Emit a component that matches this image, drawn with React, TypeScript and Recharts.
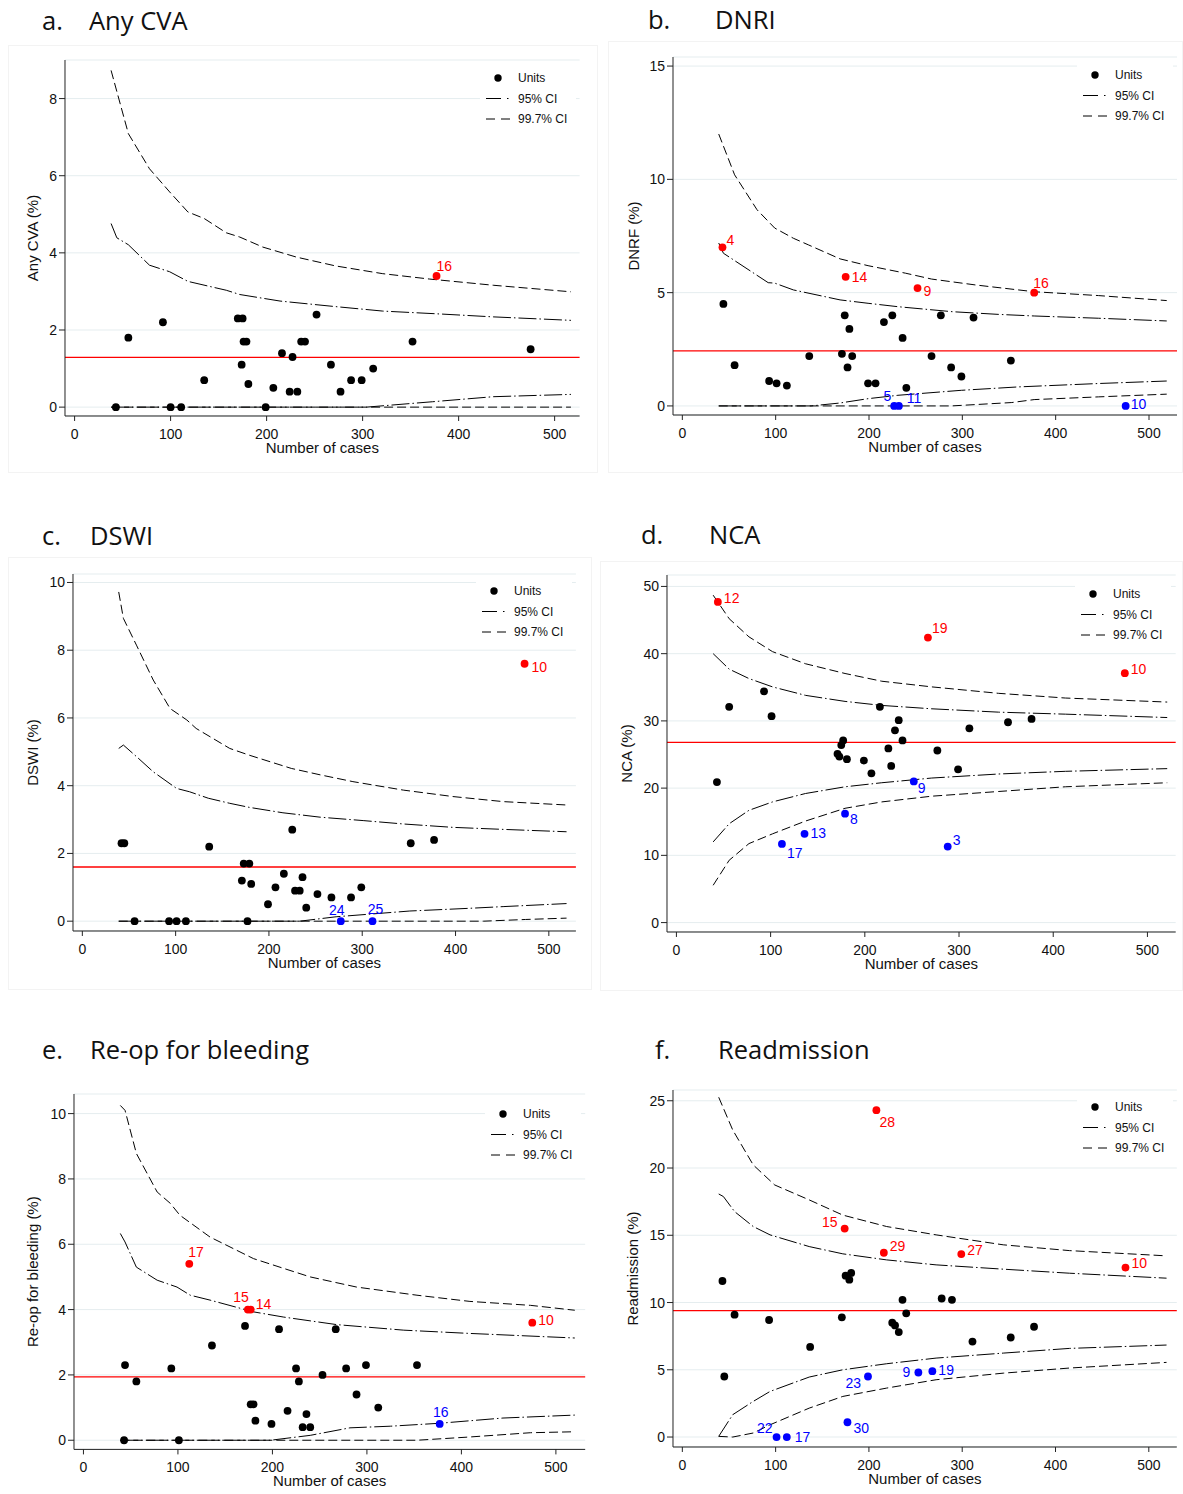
import React from 'react';
import { ComposedChart, Line, Scatter, XAxis, YAxis, CartesianGrid, ReferenceLine, Legend } from 'recharts';

type Pt = [number, number];
type Out = [string, number, number];
type LabelPos = [number, number, 'start' | 'middle' | 'end'];

const FONT = '"Liberation Sans", Arial, sans-serif';
const RED = '#ff0000';
const BLUE = '#0000ff';
const X_TICKS = [0, 100, 200, 300, 400, 500];

// a. Any CVA
const aUnits: Pt[] = [[43, 0], [56, 1.8], [92, 2.2], [100, 0], [111, 0], [135, 0.7], [170, 2.3], [175, 2.3], [174, 1.1], [176, 1.7], [179, 1.7], [181, 0.6], [199, 0], [207, 0.5], [216, 1.4], [227, 1.3], [224, 0.4], [232, 0.4], [236, 1.7], [240, 1.7], [252, 2.4], [267, 1.1], [277, 0.4], [288, 0.7], [299, 0.7], [311, 1.0], [352, 1.7], [475, 1.5]];
const aHigh: Out[] = [['16', 377, 3.4]];
const aLow: Out[] = [];
const aMean = 1.29;
const aUp997: Pt[] = [[38, 8.73], [56, 7.09], [78, 6.18], [99, 5.58], [118, 5.06], [135, 4.89], [158, 4.52], [172, 4.41], [196, 4.15], [231, 3.89], [272, 3.66], [321, 3.46], [370, 3.32], [436, 3.16], [517, 2.99]];
const aUp95: Pt[] = [[38, 4.76], [44, 4.39], [56, 4.21], [78, 3.68], [99, 3.51], [118, 3.26], [158, 3.03], [172, 2.92], [214, 2.75], [266, 2.62], [321, 2.49], [377, 2.42], [436, 2.34], [517, 2.25]];
const aLo95: Pt[] = [[38, 0], [304, 0], [373, 0.14], [436, 0.27], [517, 0.33]];
const aLo997: Pt[] = [[38, 0], [517, 0]];

// b. DNRI
const bUnits: Pt[] = [[44, 4.5], [56, 1.8], [93, 1.1], [101, 1.0], [112, 0.9], [136, 2.2], [174, 4.0], [179, 3.4], [171, 2.3], [182, 2.2], [177, 1.7], [199, 1.0], [207, 1.0], [216, 3.7], [225, 4.0], [236, 3.0], [240, 0.8], [267, 2.2], [277, 4.0], [288, 1.7], [299, 1.3], [312, 3.9], [352, 2.0]];
const bHigh: Out[] = [['4', 43, 7.0], ['14', 175, 5.7], ['9', 252, 5.2], ['16', 377, 5.0]];
const bLow: Out[] = [['5', 227, 0], ['11', 232, 0], ['10', 475, 0]];
const bMean = 2.43;
const bUp997: Pt[] = [[39, 12.0], [56, 10.2], [80, 8.66], [99, 7.85], [119, 7.4], [135, 7.11], [169, 6.49], [199, 6.19], [239, 5.86], [267, 5.6], [314, 5.34], [377, 5.04], [446, 4.87], [519, 4.65]];
const bUp95: Pt[] = [[39, 7.19], [44, 6.74], [92, 5.44], [99, 5.42], [119, 5.12], [169, 4.68], [199, 4.53], [231, 4.38], [289, 4.16], [339, 4.04], [377, 3.97], [446, 3.87], [519, 3.75]];
const bLo95: Pt[] = [[39, 0], [138, 0], [169, 0.13], [199, 0.32], [231, 0.47], [299, 0.69], [360, 0.84], [446, 0.99], [519, 1.1]];
const bLo997: Pt[] = [[39, 0], [288, 0], [353, 0.15], [377, 0.28], [446, 0.4], [519, 0.52]];

// c. DSWI
const cUnits: Pt[] = [[42, 2.3], [45, 2.3], [56, 0], [93, 0], [101, 0], [111, 0], [136, 2.2], [173, 1.7], [179, 1.7], [171, 1.2], [181, 1.1], [177, 0], [199, 0.5], [207, 1.0], [216, 1.4], [225, 2.7], [228, 0.9], [233, 0.9], [236, 1.3], [240, 0.4], [252, 0.8], [267, 0.7], [288, 0.7], [299, 1.0], [352, 2.3], [377, 2.4]];
const cHigh: Out[] = [['10', 474, 7.6]];
const cLow: Out[] = [['24', 277, 0], ['25', 311, 0]];
const cMean = 1.6;
const cUp997: Pt[] = [[39, 9.72], [44, 8.94], [58, 8.15], [76, 7.12], [94, 6.28], [112, 5.94], [122, 5.69], [158, 5.1], [179, 4.9], [224, 4.51], [255, 4.32], [290, 4.12], [344, 3.87], [397, 3.68], [451, 3.53], [519, 3.43]];
const cUp95: Pt[] = [[39, 5.1], [44, 5.2], [58, 4.86], [76, 4.41], [101, 3.92], [115, 3.82], [135, 3.63], [158, 3.48], [179, 3.36], [215, 3.2], [255, 3.07], [301, 2.97], [344, 2.87], [397, 2.77], [451, 2.71], [519, 2.64]];
const cLo95: Pt[] = [[39, 0], [233, 0], [272, 0.13], [351, 0.3], [415, 0.38], [451, 0.43], [519, 0.52]];
const cLo997: Pt[] = [[39, 0], [430, 0], [475, 0.05], [519, 0.09]];

// d. NCA
const dUnits: Pt[] = [[43, 20.9], [56, 32.1], [93, 34.4], [101, 30.7], [171, 25.1], [173, 24.7], [175, 26.4], [177, 27.1], [181, 24.3], [199, 24.1], [207, 22.2], [216, 32.1], [225, 25.9], [228, 23.3], [232, 28.6], [236, 30.1], [240, 27.1], [277, 25.6], [299, 22.8], [311, 28.9], [352, 29.8], [377, 30.3]];
const dHigh: Out[] = [['12', 44, 47.7], ['19', 267, 42.4], ['10', 476, 37.1]];
const dLow: Out[] = [['17', 112, 11.7], ['13', 136, 13.2], ['8', 179, 16.2], ['9', 252, 21.0], ['3', 288, 11.3]];
const dMean = 26.8;
const dUp997: Pt[] = [[39, 48.7], [56, 45.2], [77, 42.5], [102, 40.3], [137, 38.5], [179, 37.05], [218, 35.9], [271, 35.06], [342, 34.1], [413, 33.4], [521, 32.8]];
const dUp95: Pt[] = [[39, 40.0], [56, 37.7], [77, 36.3], [102, 35.06], [137, 33.8], [179, 32.9], [218, 32.3], [271, 31.8], [342, 31.3], [413, 31.0], [521, 30.5]];
const dLo95: Pt[] = [[39, 12.0], [56, 14.7], [77, 16.7], [102, 17.95], [137, 19.2], [179, 20.2], [218, 20.8], [271, 21.5], [342, 22.1], [413, 22.5], [521, 22.9]];
const dLo997: Pt[] = [[39, 5.55], [56, 9.27], [77, 11.75], [102, 13.2], [137, 15.1], [179, 17.0], [218, 17.95], [271, 18.8], [342, 19.5], [413, 20.2], [521, 20.8]];

// e. Re-op for bleeding
const eUnits: Pt[] = [[43, 0], [44, 2.3], [56, 1.8], [93, 2.2], [101, 0], [136, 2.9], [171, 3.5], [177, 1.1], [180, 1.1], [182, 0.6], [199, 0.5], [207, 3.4], [216, 0.9], [225, 2.2], [228, 1.8], [232, 0.4], [240, 0.4], [236, 0.8], [253, 2.0], [267, 3.4], [278, 2.2], [289, 1.4], [299, 2.3], [312, 1.0], [353, 2.3]];
const eHigh: Out[] = [['17', 112, 5.4], ['15', 174, 4.0], ['14', 177, 4.0], ['10', 475, 3.6]];
const eLow: Out[] = [['16', 377, 0.5]];
const eMean = 1.94;
const eUp997: Pt[] = [[39, 10.25], [44, 10.1], [56, 8.78], [78, 7.6], [92, 7.25], [102, 6.89], [134, 6.22], [180, 5.56], [212, 5.26], [240, 5.0], [289, 4.69], [353, 4.44], [409, 4.25], [473, 4.13], [520, 3.98]];
const eUp95: Pt[] = [[39, 6.33], [44, 6.07], [56, 5.3], [78, 4.9], [99, 4.69], [113, 4.44], [134, 4.29], [180, 3.93], [212, 3.77], [268, 3.54], [339, 3.37], [409, 3.27], [520, 3.13]];
const eLo95: Pt[] = [[39, 0], [198, 0], [240, 0.15], [282, 0.38], [325, 0.43], [377, 0.52], [444, 0.68], [520, 0.77]];
const eLo997: Pt[] = [[39, 0], [353, 0], [409, 0.1], [473, 0.23], [520, 0.26]];

// f. Readmission
const fUnits: Pt[] = [[43, 11.6], [45, 4.5], [56, 9.1], [93, 8.7], [137, 6.7], [171, 8.9], [175, 12.0], [179, 11.7], [181, 12.2], [225, 8.5], [228, 8.3], [232, 7.8], [236, 10.2], [240, 9.2], [278, 10.3], [289, 10.2], [311, 7.1], [352, 7.4], [377, 8.2]];
const fHigh: Out[] = [['28', 208, 24.3], ['15', 174, 15.5], ['29', 216, 13.7], ['27', 299, 13.6], ['10', 475, 12.6]];
const fLow: Out[] = [['22', 101, 0], ['17', 112, 0], ['30', 177, 1.1], ['23', 199, 4.5], ['9', 253, 4.8], ['19', 268, 4.9]];
const fMean = 9.4;
const fUp997: Pt[] = [[39, 25.26], [54, 22.83], [76, 20.23], [99, 18.74], [136, 17.63], [172, 16.5], [219, 15.65], [272, 15.03], [344, 14.29], [415, 13.86], [519, 13.47]];
const fUp95: Pt[] = [[39, 18.07], [44, 17.88], [56, 16.76], [76, 15.65], [94, 15.03], [136, 14.16], [172, 13.62], [219, 13.17], [272, 12.8], [344, 12.48], [415, 12.18], [519, 11.81]];
const fLo95: Pt[] = [[39, 0.05], [54, 1.66], [76, 2.65], [94, 3.39], [136, 4.46], [172, 5.0], [219, 5.45], [272, 5.87], [344, 6.24], [415, 6.59], [519, 6.84]];
const fLo997: Pt[] = [[39, 0.05], [54, 0], [76, 0.3], [94, 0.91], [136, 2.15], [172, 3.02], [219, 3.64], [272, 4.26], [344, 4.75], [415, 5.13], [519, 5.55]];

const rows = (pts: Pt[]) => pts.map(([n, v]) => ({ n, v }));
const outRows = (pts: Out[]) => pts.map(([lab, n, v]) => ({ n, v, lab }));

interface PanelProps {
  letter: string; title: string; titleX: [number, number]; titleY: number;
  yLabel: string; yLabelGap: number;
  box: [number, number, number, number]; // x0, x1, y0, y1 of the plot area on the page
  xDomain: [number, number]; yDomain: [number, number]; yTicks: number[];
  units: Pt[]; high: Out[]; low: Out[]; mean: number;
  up997: Pt[]; up95: Pt[]; lo95: Pt[]; lo997: Pt[];
  labelPos: Record<string, LabelPos>; legendDy: number;
}

const YW = 60, MT = 10, MR = 10, XH = 50;
const DASH95 = '18 3 1.5 3';
const DASH997 = '9 4';

function dotShape(color: string, pos: Record<string, LabelPos>) {
  return (p: any) => {
    const lab = p.payload?.lab;
    const lp = lab ? pos[lab] : undefined;
    return (
      <g>
        <circle cx={p.cx} cy={p.cy} r={3.9} fill={color} />
        {lp && (
          <text x={p.cx + lp[0]} y={p.cy + lp[1]} textAnchor={lp[2]} dominantBaseline="central"
            fill={color} fontSize={14} fontFamily={FONT}>{lab}</text>
        )}
      </g>
    );
  };
}

function LegendBox() {
  const t = { dominantBaseline: 'central' as const, fontSize: 12, fontFamily: FONT, fill: '#111' };
  return (
    <div style={{ background: '#fff', width: 96, height: 68 }}>
      <svg width={96} height={68} style={{ display: 'block' }}>
        <circle cx={18} cy={10} r={3.7} fill="#000" />
        <text x={38} y={10} {...t}>Units</text>
        <line x1={6} x2={31} y1={30.5} y2={30.5} stroke="#000" strokeDasharray="15 6 1.5 20" />
        <text x={38} y={30.5} {...t}>95% CI</text>
        <line x1={6} x2={31} y1={51} y2={51} stroke="#000" strokeDasharray="9 6" />
        <text x={38} y={51} {...t}>99.7% CI</text>
      </svg>
    </div>
  );
}

function Panel(p: PanelProps) {
  const [x0, x1, y0, y1] = p.box;
  const pw = x1 - x0, ph = y1 - y0;
  const W = pw + YW + MR, H = ph + MT + XH;
  const tick = { fill: '#111', fontSize: 14, fontFamily: FONT };
  const titleStyle: React.CSSProperties = { position: 'absolute', top: p.titleY - 15, fontFamily: '"Open Sans", sans-serif', fontSize: 25.5, lineHeight: '28px', color: '#111', whiteSpace: 'nowrap' };
  const ly = MT + ph / 2, lx = YW - p.yLabelGap;
  return (
    <>
      <div style={{ ...titleStyle, left: p.titleX[0] }}>{p.letter}</div>
      <div style={{ ...titleStyle, left: p.titleX[1] }}>{p.title}</div>
      <div style={{ position: 'absolute', left: x0 - YW, top: y0 - MT }}>
        <ComposedChart width={W} height={H} margin={{ top: MT, right: MR, bottom: 0, left: 0 }}>
          <CartesianGrid vertical={false} stroke="#e5edef" />
          <XAxis type="number" dataKey="n" domain={p.xDomain} ticks={X_TICKS} allowDataOverflow
            height={XH} tickSize={5} tickMargin={8} stroke="#222" tick={tick}
            label={{ value: 'Number of cases', position: 'insideBottom', offset: 13, fill: '#111', fontSize: 15, fontFamily: FONT }} />
          <YAxis type="number" dataKey="v" domain={p.yDomain} ticks={p.yTicks} allowDataOverflow
            width={YW} tickSize={6} tickMargin={2} stroke="#222" tick={tick}
            label={{
              content: () => (
                <text x={lx} y={ly} transform={`rotate(-90 ${lx} ${ly})`}
                  textAnchor="middle" dominantBaseline="central" fontSize={15} fontFamily={FONT} fill="#111">{p.yLabel}</text>
              ),
            }} />
          <ReferenceLine y={p.mean} stroke={RED} strokeWidth={1.3} />
          <Line data={rows(p.lo997)} dataKey="v" type="linear" stroke="#000" strokeWidth={1} strokeDasharray={DASH997} dot={false} activeDot={false} isAnimationActive={false} legendType="none" />
          <Line data={rows(p.up997)} dataKey="v" type="linear" stroke="#000" strokeWidth={1} strokeDasharray={DASH997} dot={false} activeDot={false} isAnimationActive={false} legendType="none" />
          <Line data={rows(p.lo95)} dataKey="v" type="linear" stroke="#000" strokeWidth={1} strokeDasharray={DASH95} dot={false} activeDot={false} isAnimationActive={false} legendType="none" />
          <Line data={rows(p.up95)} dataKey="v" type="linear" stroke="#000" strokeWidth={1} strokeDasharray={DASH95} dot={false} activeDot={false} isAnimationActive={false} legendType="none" />
          <Scatter data={rows(p.units)} shape={dotShape('#000', p.labelPos)} isAnimationActive={false} legendType="none" />
          <Scatter data={outRows(p.high)} shape={dotShape(RED, p.labelPos)} isAnimationActive={false} legendType="none" />
          <Scatter data={outRows(p.low)} shape={dotShape(BLUE, p.labelPos)} isAnimationActive={false} legendType="none" />
          <Legend layout="vertical" align="center" verticalAlign="middle" content={() => <LegendBox />}
            wrapperStyle={{ left: YW + pw - 100, top: MT + p.legendDy - 10, width: 96, height: 68, bottom: 'auto', right: 'auto' }} />
        </ComposedChart>
      </div>
    </>
  );
}

const frames = [
  { left: 8, top: 45, width: 590, height: 428 },
  { left: 608, top: 41, width: 575, height: 432 },
  { left: 8, top: 557, width: 584, height: 433 },
  { left: 600, top: 561, width: 583, height: 430 },
];

export default function App() {
  return (
    <div style={{ position: 'absolute', left: 0, top: 0, width: 1183, height: 1494, background: '#fff', overflow: 'hidden' }}>
      {frames.map((f, i) => (
        <div key={i} style={{ position: 'absolute', ...f, border: '1px solid #f3f3f3', boxSizing: 'border-box' }} />
      ))}
      <Panel letter="a." title="Any CVA" titleX={[42, 89]} titleY={21} yLabel="Any CVA (%)" yLabelGap={32}
        box={[65.4, 580, 60, 416]} xDomain={[-10, 526]} yDomain={[-0.23, 9.0]} yTicks={[0, 2, 4, 6, 8]}
        units={aUnits} high={aHigh} low={aLow} mean={aMean} up997={aUp997} up95={aUp95} lo95={aLo95} lo997={aLo997}
        labelPos={{ '16': [0, -10, 'start'] }} legendDy={18} />
      <Panel letter="b." title="DNRI" titleX={[648, 715]} titleY={20} yLabel="DNRF (%)" yLabelGap={40}
        box={[673, 1177, 57, 415]} xDomain={[-10, 530]} yDomain={[-0.4, 15.4]} yTicks={[0, 5, 10, 15]}
        units={bUnits} high={bHigh} low={bLow} mean={bMean} up997={bUp997} up95={bUp95} lo95={bLo95} lo997={bLo997}
        labelPos={{ '4': [4, -7, 'start'], '14': [6, 0, 'start'], '9': [6, 3, 'start'], '16': [-1, -10, 'start'], '5': [-3, -10, 'end'], '11': [8, -8, 'start'], '10': [5, -2, 'start'] }}
        legendDy={18} />
      <Panel letter="c." title="DSWI" titleX={[42, 90]} titleY={536} yLabel="DSWI (%)" yLabelGap={40}
        box={[73.4, 576.3, 574, 931]} xDomain={[-10, 529]} yDomain={[-0.29, 10.25]} yTicks={[0, 2, 4, 6, 8, 10]}
        units={cUnits} high={cHigh} low={cLow} mean={cMean} up997={cUp997} up95={cUp95} lo95={cLo95} lo997={cLo997}
        labelPos={{ '10': [7, 3, 'start'], '24': [-4, -11, 'middle'], '25': [3, -12, 'middle'] }} legendDy={17} />
      <Panel letter="d." title="NCA" titleX={[641, 709]} titleY={535} yLabel="NCA (%)" yLabelGap={40}
        box={[666.6, 1175.3, 574.7, 931.7]} xDomain={[-10, 530]} yDomain={[-1.4, 51.7]} yTicks={[0, 10, 20, 30, 40, 50]}
        units={dUnits} high={dHigh} low={dLow} mean={dMean} up997={dUp997} up95={dUp95} lo95={dLo95} lo997={dLo997}
        labelPos={{ '12': [6, -4, 'start'], '19': [4, -10, 'start'], '10': [6, -4, 'start'], '9': [4, 7, 'start'], '8': [5, 5, 'start'], '13': [6, -1, 'start'], '17': [5, 9, 'start'], '3': [5, -7, 'start'] }}
        legendDy={19.5} />
      <Panel letter="e." title="Re-op for bleeding" titleX={[42, 90]} titleY={1050} yLabel="Re-op for bleeding (%)" yLabelGap={41}
        box={[73.9, 585.1, 1093.6, 1449]} xDomain={[-10, 531]} yDomain={[-0.28, 10.6]} yTicks={[0, 2, 4, 6, 8, 10]}
        units={eUnits} high={eHigh} low={eLow} mean={eMean} up997={eUp997} up95={eUp95} lo95={eLo95} lo997={eLo997}
        labelPos={{ '17': [-1, -12, 'start'], '15': [1, -13, 'end'], '14': [5, -6, 'start'], '10': [6, -3, 'start'], '16': [1, -12, 'middle'] }}
        legendDy={20} />
      <Panel letter="f." title="Readmission" titleX={[655, 718]} titleY={1050} yLabel="Readmission (%)" yLabelGap={40}
        box={[673.4, 1177.2, 1090.3, 1447.3]} xDomain={[-10, 530]} yDomain={[-0.74, 25.8]} yTicks={[0, 5, 10, 15, 20, 25]}
        units={fUnits} high={fHigh} low={fLow} mean={fMean} up997={fUp997} up95={fUp95} lo95={fLo95} lo997={fLo997}
        labelPos={{ '28': [3, 12, 'start'], '15': [-7, -7, 'end'], '29': [6, -7, 'start'], '27': [6, -4, 'start'], '10': [6, -5, 'start'], '23': [-7, 6, 'end'], '9': [-8, 0, 'end'], '19': [6, -1, 'start'], '22': [-4, -9, 'end'], '17': [8, 0, 'start'], '30': [6, 6, 'start'] }}
        legendDy={17} />
    </div>
  );
}
